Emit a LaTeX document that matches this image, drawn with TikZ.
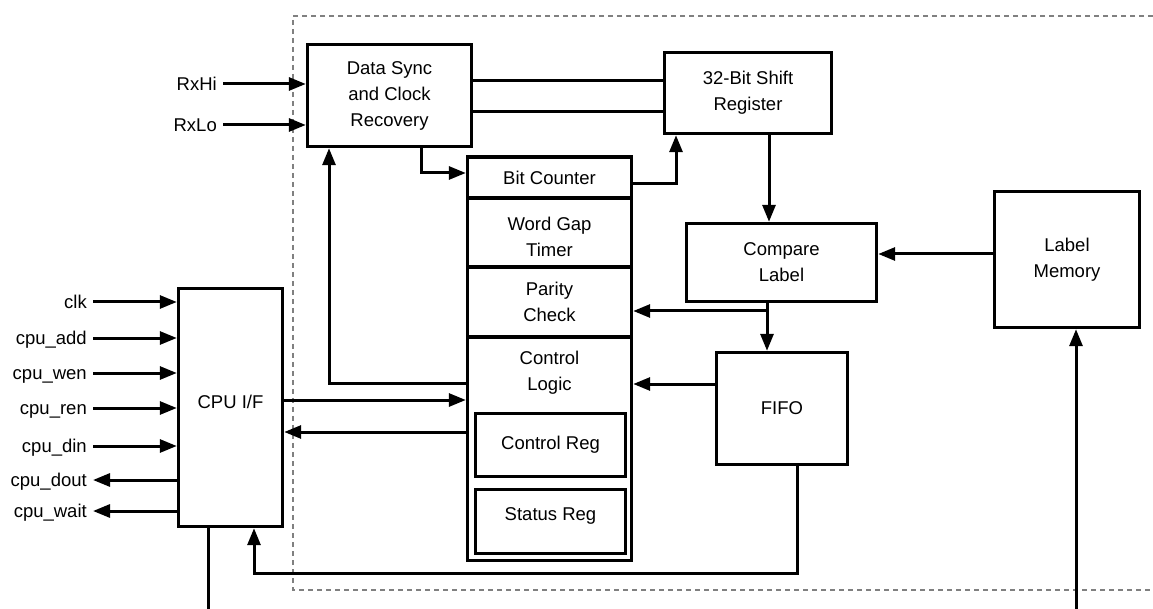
\documentclass[tikz,border=0pt]{standalone}
\usepackage{fontspec}
\setmainfont{Liberation Sans}
\usetikzlibrary{arrows.meta}
\begin{document}
\begin{tikzpicture}[x=1pt,y=-1pt,
  blk/.style={draw, line width=3.4pt, rectangle, align=center, inner sep=0pt, font=\fontsize{18.5}{26}\selectfont},
  con/.style={line width=3pt},
  arr/.style={con, -{Triangle[length=17pt,width=13pt]}},
  lbl/.style={inner xsep=6pt, inner ysep=0pt, text height=13pt, text depth=0pt, font=\fontsize{18.5}{26}\selectfont},
  txt/.style={inner sep=0pt, align=center, font=\fontsize{18.5}{26}\selectfont},
  frame/.style={gray, line width=1.2pt, dash pattern=on 5pt off 4pt}]
\useasboundingbox (0,0) rectangle (1153,609);
% dashed frame
\draw[frame] (1153,16) -- (293,16) -- (293,590) -- (1153,590);
% blocks
\node[blk, minimum width=164pt, minimum height=102pt] (ds) at (389.5,95.5) {Data Sync\\and Clock\\Recovery};
\node[blk, minimum width=167pt, minimum height=81pt] (sr) at (748,93) {32-Bit Shift\\Register};
\node[blk, minimum width=164pt, minimum height=41pt] (bc) at (549.5,177.5) {Bit Counter};
\node[blk, minimum width=164pt, minimum height=69pt] (wg) at (549.5,232.5) {};
\node[txt] (wgtxt) at (549.5,236.5) {Word Gap\\Timer};
\node[blk, minimum width=164pt, minimum height=70pt] (pc) at (549.5,302) {Parity\\Check};
\node[blk, minimum width=164pt, minimum height=223.5pt] (cl) at (549.5,448.75) {};
\node[txt] (cltxt) at (549.5,372.5) {Control\\Logic};
\node[blk, minimum width=150pt, minimum height=63pt] (creg) at (550.5,445) {Control Reg};
\node[blk, minimum width=150pt, minimum height=64pt] (sreg) at (550.5,521.5) {};
\node[txt] (sregtxt) at (550.5,516) {Status Reg};
\node[blk, minimum width=190pt, minimum height=78pt] (cmp) at (781.5,262.5) {Compare\\Label};
\node[blk, minimum width=145pt, minimum height=136pt] (lm) at (1067,259.5) {Label\\Memory};
\node[blk, minimum width=131pt, minimum height=112pt] (fifo) at (782,408.5) {FIFO};
\node[blk, minimum width=104pt, minimum height=238pt] (cpu) at (230.5,407.5) {};
\node[txt] (cputxt) at (230.5,402) {CPU I/F};
% external labels
\node[lbl, anchor=east] (rxhi) at (223,84) {RxHi};
\node[lbl, anchor=east] (rxlo) at (223,125) {RxLo};
\node[lbl, anchor=east] (clk) at (93,302) {clk};
\node[lbl, anchor=east] (cadd) at (93,338) {cpu\_add};
\node[lbl, anchor=east] (cwen) at (93,373) {cpu\_wen};
\node[lbl, anchor=east] (cren) at (93,408) {cpu\_ren};
\node[lbl, anchor=east] (cdin) at (93,446) {cpu\_din};
\node[lbl, anchor=east] (cdout) at (93,480) {cpu\_dout};
\node[lbl, anchor=east] (cwait) at (93,511) {cpu\_wait};
% connectors
\draw[arr] (rxhi.east) -- (rxhi.east -| ds.west);
\draw[arr] (rxlo.east) -- (rxlo.east -| ds.west);
\draw[con] (ds.east |- 0,81) -- (sr.west |- 0,81);
\draw[con] (ds.east |- 0,112) -- (sr.west |- 0,112);
\draw[arr] (ds.south -| 421,0) |- (bc.west |- 0,173);
\draw[arr] (bc.east |- 0,184) -| (sr.south -| 676,0);
\draw[arr] (sr.south -| 769,0) -- (cmp.north -| 769,0);
\draw[arr] (lm.west |- 0,254) -- (cmp.east |- 0,254);
\draw[arr] (cmp.south -| 767,0) -- (fifo.north -| 767,0);
\coordinate (br) at (767,311);
\draw[arr] (br) -- (pc.east |- br);
\draw[arr] (fifo.west |- 0,384) -- (cl.east |- 0,384);
\draw[arr] (cl.west |- 0,383) -| (ds.south -| 329,0);
\draw[arr] (cpu.east |- 0,400) -- (cl.west |- 0,400);
\draw[arr] (cl.west |- 0,432) -- (cpu.east |- 0,432);
\coordinate (fb) at (254,573);
\draw[arr] (fifo.south -| 797,0) |- (fb) -- (cpu.south -| fb);
\coordinate (cpuout) at (208,609);
\draw[con] (cpu.south -| cpuout) -- (cpuout);
\coordinate (lmin) at (1076,609);
\draw[arr] (lmin) -- (lm.south -| lmin);
\foreach \n in {clk,cadd,cwen,cren,cdin}
  \draw[arr] (\n.east) -- (\n.east -| cpu.west);
\foreach \n in {cdout,cwait}
  \draw[arr] (\n.east -| cpu.west) -- (\n.east);
\end{tikzpicture}
\end{document}
